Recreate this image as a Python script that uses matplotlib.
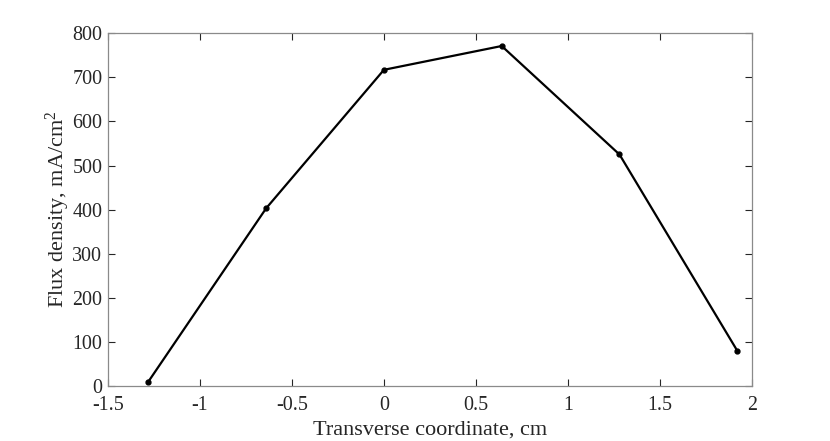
import matplotlib
matplotlib.use("Agg")
import matplotlib.pyplot as plt

x_cm = [-1.28, -0.64, 0.0, 0.64, 1.28, 1.92]
flux = [10, 403, 717, 771, 525, 80]
xticks = [-1.5, -1, -0.5, 0, 0.5, 1, 1.5, 2]
xticklabels = ["-1.5", "-1", "-0.5", "0", "0.5", "1", "1.5", "2"]
yticks = [0, 100, 200, 300, 400, 500, 600, 700, 800]

plt.rcParams['font.family'] = ['Liberation Serif', 'DejaVu Serif']
plt.rcParams['mathtext.fontset'] = 'custom'
plt.rcParams['mathtext.rm'] = 'Liberation Serif'
plt.rcParams['mathtext.it'] = 'Liberation Serif:italic'

fig = plt.figure(figsize=(8.3, 4.41), dpi=100)
ax = fig.add_axes([0.130, 0.1247, 0.776, 0.80])
ax.plot(x_cm, flux, color='black', lw=1.6, marker='o', ms=3.5,
        mfc='black', mec='black', mew=1)
ax.set_xlim(-1.5, 2)
ax.set_ylim(0, 800)
ax.set_xticks(xticks)
ax.set_xticklabels(xticklabels)
ax.set_yticks(yticks)
ax.tick_params(direction='in', top=True, right=True, labelsize=14.4,
               length=5, width=0.8, color='#262626', labelcolor='#262626', pad=4)
ax.tick_params(axis='x', pad=7.5)
for s in ax.spines.values():
    s.set_color('#8a8a8a')
    s.set_linewidth(0.9)
ax.set_xlabel('Transverse coordinate, cm', fontsize=16, labelpad=4,
              color='#262626')
ax.set_ylabel(r'Flux density, mA/cm$^{\mathrm{2}}$', fontsize=16, labelpad=0,
              color='#262626')
fig.savefig('out.png', dpi=100)
